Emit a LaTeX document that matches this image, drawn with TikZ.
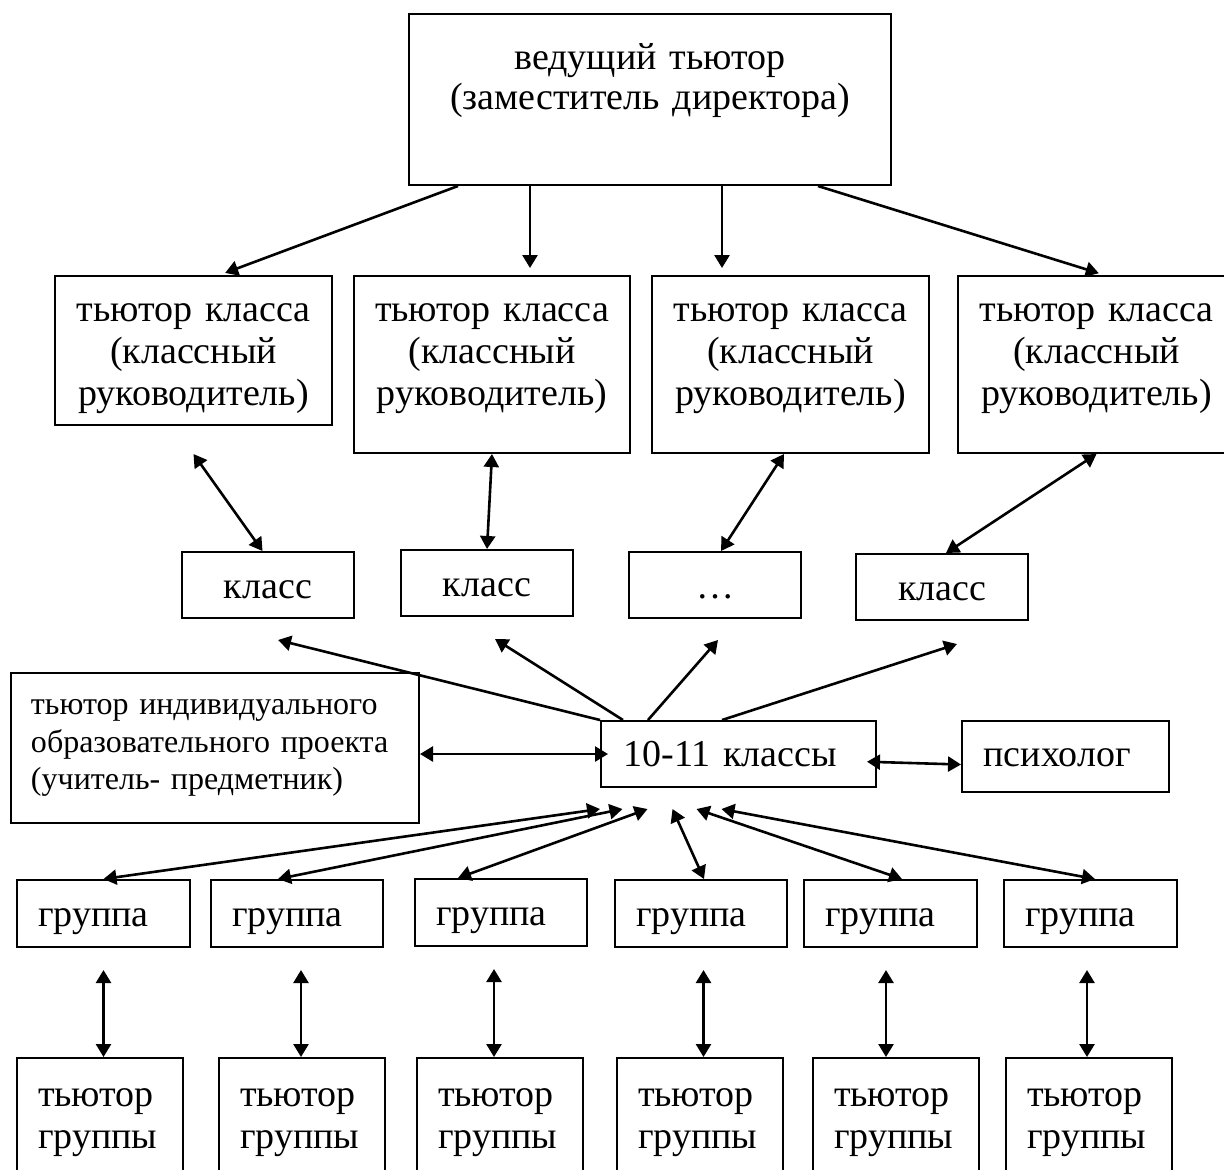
\documentclass[tikz,border=0pt]{standalone}
\usepackage{fontspec}
\setmainfont{Liberation Serif}
\usepackage{tikz}
\usetikzlibrary{arrows.meta}
\tikzstyle{box} = [rectangle, draw, line width=1pt, inner sep=0pt, anchor=north west]
\tikzstyle{topbox} = [box, align=center, text height=22.5pt, text depth=66pt]
\tikzstyle{block} = [box, align=center, minimum width=86pt, minimum height=33pt, text height=13pt, text depth=0pt]
\tikzstyle{leftbox} = [box, align=left, inner xsep=10.5pt, minimum height=33.5pt, text width=65.5pt, text height=12.5pt, text depth=0pt]
\tikzstyle{tutorbox} = [box, align=left, inner xsep=10.5pt, text width=62pt, text height=24pt, text depth=40pt]
\tikzstyle{line} = [draw, line width=1.3pt, -{Triangle[length=6.5pt,width=7.5pt]}]
\tikzstyle{dline} = [line, {Triangle[length=6.5pt,width=7.5pt]}-{Triangle[length=6.5pt,width=7.5pt]}]

\begin{document}
\begin{tikzpicture}[x=0.5pt, y=-0.5pt, font=\fontsize{19pt}{21pt}\selectfont]
  \useasboundingbox (0,0) rectangle (1224,1169);
   % Place nodes
    \node [box, align=center, text width=241pt, text height=27.5pt, text depth=58pt,
      font=\fontsize{19pt}{20pt}\selectfont] (lead) at (408,13)
      {ведущий тьютор\\(заместитель директора)};
    \node [topbox, text width=138.5pt, text depth=52pt] (tc1) at (54,275) {тьютор класса\\(классный\\руководитель)};
    \node [topbox, text width=138pt] (tc2) at (353,275) {тьютор класса\\(классный\\руководитель)};
    \node [topbox, text width=138.5pt] (tc3) at (651,275) {тьютор класса\\(классный\\руководитель)};
    \node [topbox, text width=138.5pt] (tc4) at (957,275) {тьютор класса\\(классный\\руководитель)};
    \node [block] (k1) at (181,551) {класс};
    \node [block] (k2) at (400,549) {класс};
    \node [block] (k3) at (628,551) {…};
    \node [block] (k4) at (855,553) {класс};
    \node [box, align=left, inner xsep=10pt, text width=184pt, minimum height=75pt,
      font=\fontsize{16pt}{18.75pt}\selectfont] (indiv) at (10,672)
      {тьютор индивидуального\\образовательного проекта\\(учитель- предметник)};
    \node [leftbox, inner xsep=11.25pt, text width=115pt, minimum height=33pt] (c1011) at (600,720) {10-11 классы};
    \node [leftbox, inner xsep=10.75pt, text width=82pt, minimum height=35.5pt, text height=9.5pt] (psych) at (961,720) {психолог};
    \node [leftbox] (g1) at (16,879) {группа};
    \node [leftbox, text width=65pt] (g2) at (210,879) {группа};
    \node [leftbox, text width=65pt] (g3) at (414,878) {группа};
    \node [leftbox, text width=65pt] (g4) at (614,879) {группа};
    \node [leftbox] (g5) at (803,879) {группа};
    \node [leftbox] (g6) at (1003,879) {группа};
    \node [tutorbox] (tg1) at (16,1057) {тьютор\\группы};
    \node [tutorbox] (tg2) at (218,1057) {тьютор\\группы};
    \node [tutorbox] (tg3) at (416,1057) {тьютор\\группы};
    \node [tutorbox] (tg4) at (616,1057) {тьютор\\группы};
    \node [tutorbox] (tg5) at (812,1057) {тьютор\\группы};
    \node [tutorbox] (tg6) at (1005,1057) {тьютор\\группы};
   % Draw edges
    \path [line, shorten >=3pt] ([xshift=-96pt]lead.south) -- ([xshift=13pt]tc1.north);
    \path [line, shorten >=3.5pt] ([xshift=-60pt]lead.south) -- ([xshift=-60pt]lead.south |- tc2.north);
    \path [line, shorten >=3.5pt] ([xshift=36pt]lead.south) -- ([xshift=36pt]lead.south |- tc3.north);
    \path [line, shorten >=3pt] ([xshift=84pt]lead.south) -- ([xshift=4pt]tc4.north);
    \path [dline] ([yshift=-14pt]tc1.south) -- ([xshift=-2.75pt]k1.north);
    \path [dline] (tc2.south) -- (k2.north);
    \path [dline] ([xshift=-3.25pt]tc3.south) -- ([xshift=3pt]k3.north);
    \path [dline] (tc4.south) -- ([xshift=2pt]k4.north);
    \path [line] (c1011.north west) -- ([shift={(5pt,-10.5pt)}]k1.south);
    \path [line] ([xshift=11.5pt]c1011.north west) -- ([shift={(4pt,-11pt)}]k2.south);
    \path [line] ([xshift=24pt]c1011.north west) -- ([shift={(1.5pt,-10.5pt)}]k3.south);
    \path [line] ([xshift=61pt]c1011.north west) -- ([shift={(7.5pt,-11.5pt)}]k4.south);
    \path [dline, shorten >=-4pt] (indiv.east |- c1011.west) -- (c1011.west);
    \path [dline, shorten <=-5pt] ([yshift=-4pt]c1011.east) -- ([yshift=-4pt]psych.west);
    \path [dline] (g1.north) -- ([yshift=-10.5pt]c1011.south west);
    \path [dline] ([xshift=-9.5pt]g2.north) -- ([shift={(11.25pt,-10.5pt)}]c1011.south west);
    \path [dline] ([xshift=-21.5pt]g3.north) -- ([shift={(23.75pt,-10.5pt)}]c1011.south west);
    \path [dline] ([xshift=1.5pt]g4.north) -- ([shift={(36.25pt,-10.5pt)}]c1011.south west);
    \path [dline] ([xshift=5.75pt]g5.north) -- ([shift={(48.25pt,-10.5pt)}]c1011.south west);
    \path [dline] ([xshift=2.25pt]g6.north) -- ([shift={(60.75pt,-10.5pt)}]c1011.south west);
    \path [dline] ([yshift=-11pt]g1.south) -- (g1.south |- tg1.north);
    \path [dline] ([xshift=2pt,yshift=-11pt]g2.south) -- ([xshift=2pt]g2.south |- tg2.north);
    \path [dline] ([xshift=-3.5pt,yshift=-11pt]g3.south) -- ([xshift=-3.5pt]g3.south |- tg3.north);
    \path [dline] ([xshift=1.25pt,yshift=-11pt]g4.south) -- ([xshift=1.25pt]g4.south |- tg4.north);
    \path [dline] ([xshift=-2.25pt,yshift=-11pt]g5.south) -- ([xshift=-2.25pt]g5.south |- tg5.north);
    \path [dline] ([xshift=-1.75pt,yshift=-11pt]g6.south) -- ([xshift=-1.75pt]g6.south |- tg6.north);
  \end{tikzpicture}
\end{document}
